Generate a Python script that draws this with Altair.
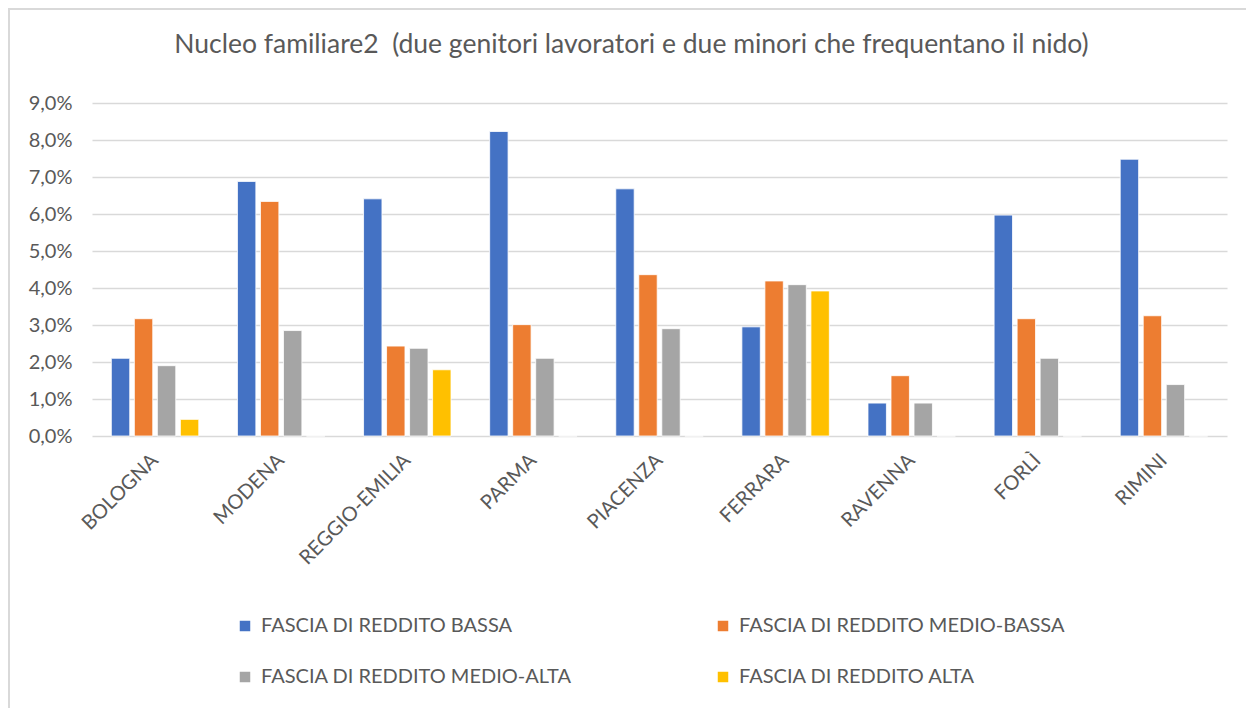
import altair as alt
import pandas as pd

cities = ["BOLOGNA", "MODENA", "REGGIO-EMILIA", "PARMA", "PIACENZA",
          "FERRARA", "RAVENNA", "FORLÌ", "RIMINI"]
series = ["FASCIA DI REDDITO BASSA", "FASCIA DI REDDITO MEDIO-BASSA",
          "FASCIA DI REDDITO MEDIO-ALTA", "FASCIA DI REDDITO ALTA"]
bassa = [0.0210, 0.0688, 0.0641, 0.0823, 0.0668, 0.0295, 0.0089, 0.0597, 0.0748]
medio_bassa = [0.0317, 0.0634, 0.0243, 0.0301, 0.0436, 0.0419, 0.0163, 0.0317, 0.0325]
medio_alta = [0.0190, 0.0285, 0.0237, 0.0210, 0.0290, 0.0409, 0.0089, 0.0210, 0.0139]
alta = [0.0045, 0.0, 0.0179, 0.0, 0.0, 0.0392, 0.0, 0.0, 0.0]
colors = ["#4472C4", "#ED7D31", "#A5A5A5", "#FFC000"]
title_text = "Nucleo familiare2\u00a0 (due genitori lavoratori e due minori che frequentano il nido)"

rows = []
for s, vals in zip(series, [bassa, medio_bassa, medio_alta, alta]):
    for c, v in zip(cities, vals):
        rows.append({"city": c, "series": s, "value": v})
df = pd.DataFrame(rows)

FONT = "Lato"
GRAY = "#595959"

bars = alt.Chart(df).mark_bar(stroke="white", strokeWidth=0.8).encode(
    x=alt.X("city:N", sort=cities, title=None,
            scale=alt.Scale(paddingInner=0, paddingOuter=0),
            axis=alt.Axis(labelAngle=-45, labelAlign="right", labelBaseline="middle",
                          labelPadding=21, ticks=False, domain=False,
                          labelFont=FONT, labelFontSize=20, labelColor=GRAY)),
    xOffset=alt.XOffset("series:N", sort=series,
                        scale=alt.Scale(paddingInner=0.2, paddingOuter=0.84)),
    y=alt.Y("value:Q", title=None,
            scale=alt.Scale(domain=[0, 0.09], nice=False),
            axis=alt.Axis(values=[i / 100 for i in range(10)],
                          labelExpr="replace(format(datum.value, '.1%'), '.', ',')",
                          ticks=False, domain=False, labelPadding=20,
                          gridColor="#D9D9D9", gridWidth=1.6,
                          labelFont=FONT, labelFontSize=20, labelColor=GRAY)),
    color=alt.Color("series:N", sort=series,
                    scale=alt.Scale(domain=series, range=colors),
                    legend=alt.Legend(title=None, orient="none", legendX=143, legendY=513,
                                      direction="horizontal",
                                      columns=2, columnPadding=141, rowPadding=31,
                                      symbolType="square", symbolSize=110,
                                      symbolStrokeWidth=0, labelFont=FONT,
                                      labelFontSize=20, labelColor=GRAY,
                                      labelOffset=6, labelLimit=500)),
)

frame_src = pd.DataFrame({"k": [0]})
top_border = alt.Chart(frame_src).mark_rule(color="#D9D9D9", strokeWidth=2).encode(
    x=alt.value(-84), x2=alt.value(1135 + 19), y=alt.value(-94))
left_border = alt.Chart(frame_src).mark_rule(color="#D9D9D9", strokeWidth=2).encode(
    x=alt.value(-83), y=alt.value(-95), y2=alt.value(333 + 272))
title = alt.Chart(frame_src).mark_text(
    text=title_text, font=FONT, fontSize=26.5, color=GRAY,
    align="center", baseline="alphabetic").encode(
    x=alt.value(539.5), y=alt.value(-50))

chart = alt.layer(bars, top_border, left_border, title).properties(
    width=1135, height=333,
    autosize=alt.AutoSizeParams(type="none"),
    padding={"left": 84, "top": 95, "right": 19, "bottom": 272},
).configure_view(stroke=None)

chart.save("out.html", embed_options={"renderer": "svg", "actions": False})
